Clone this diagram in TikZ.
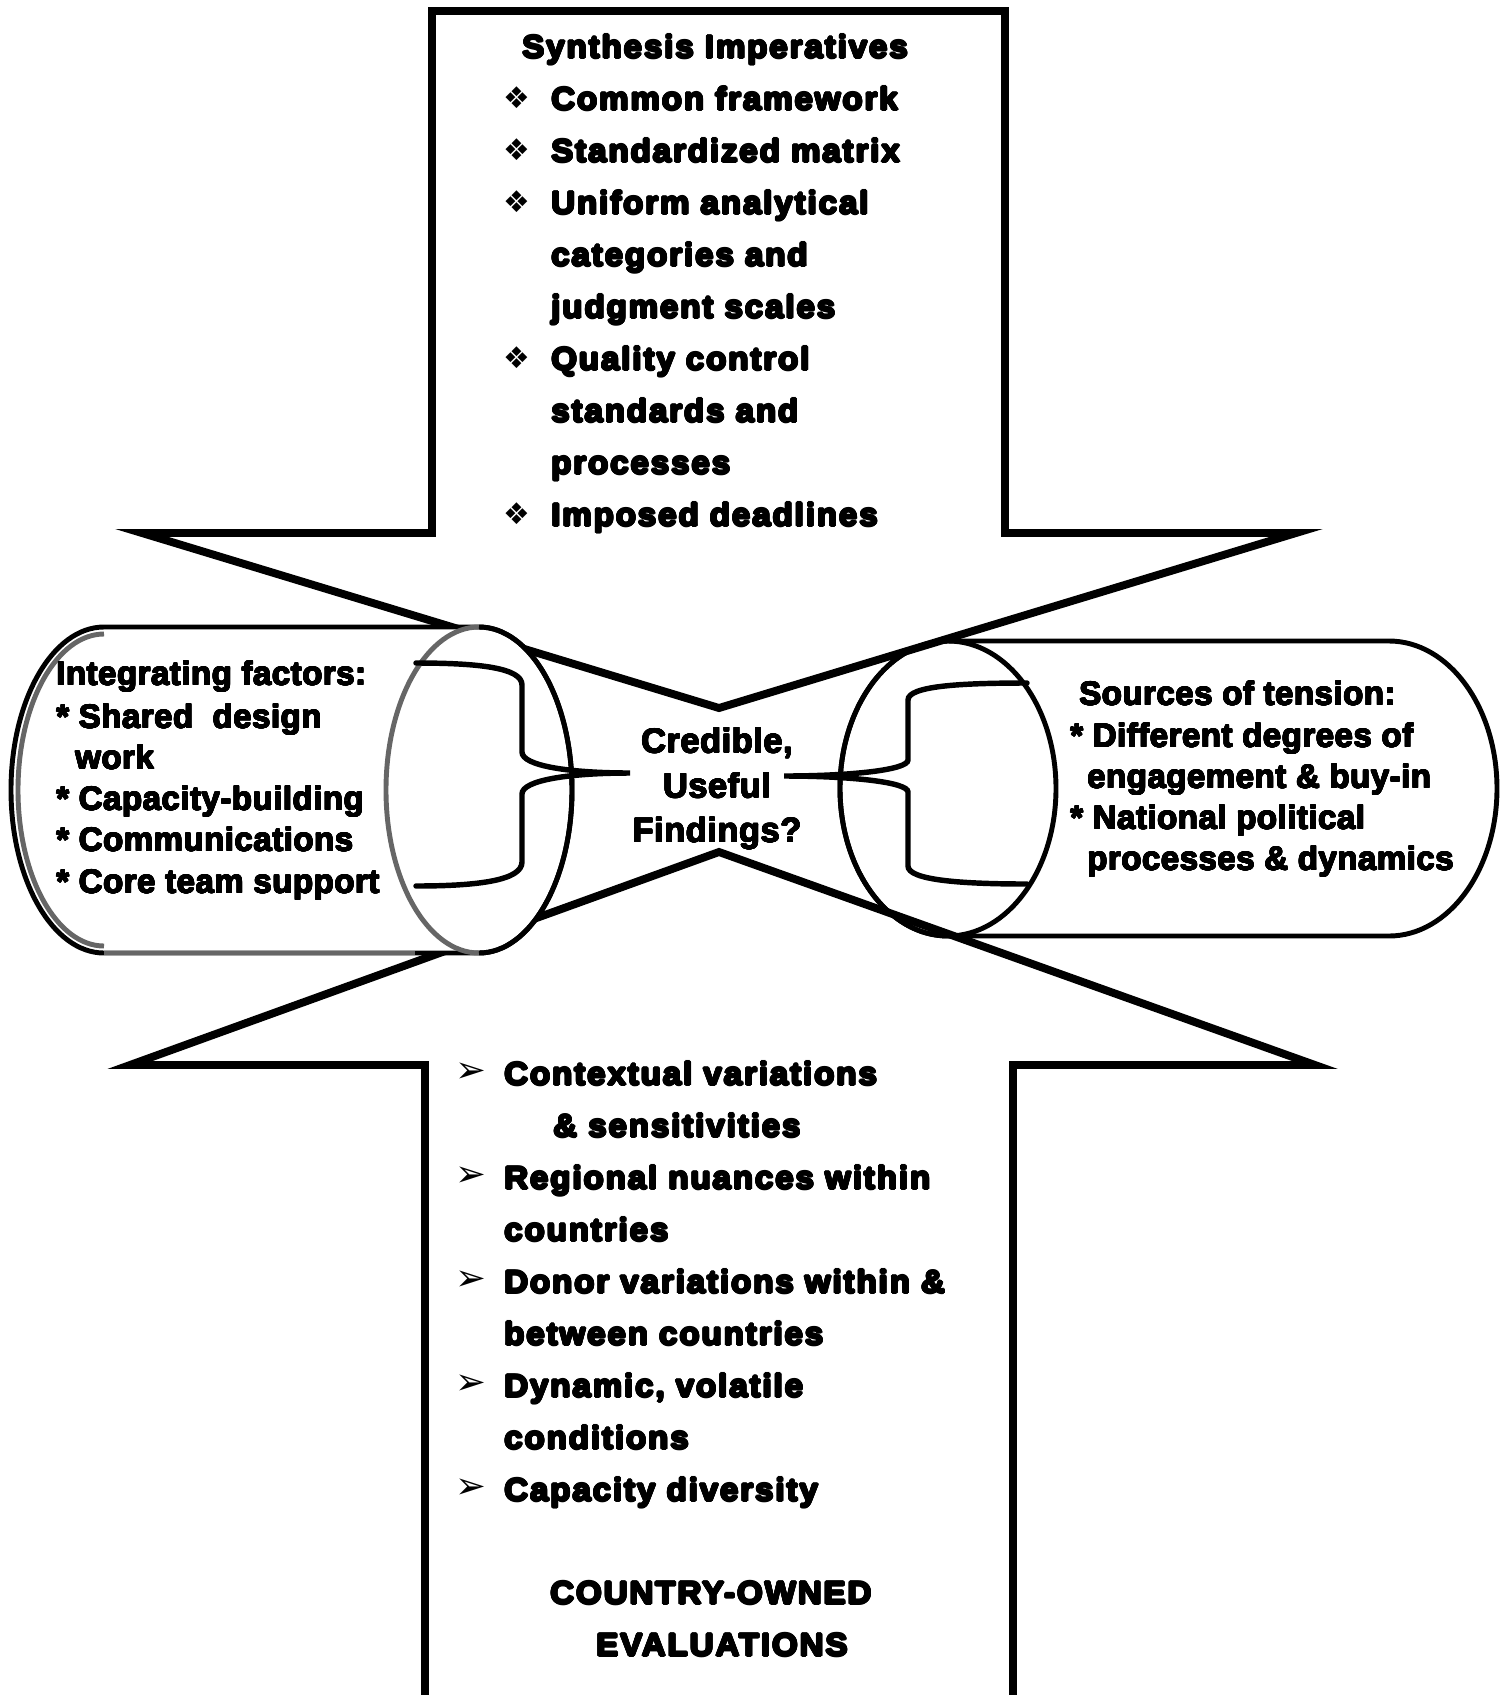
\documentclass[tikz,border=0pt]{standalone}
\usepackage{fontspec}
\usepackage[copies]{contour}
\setmainfont{Liberation Sans}
\newfontfamily\heavyfont{Liberation Sans}[BoldFeatures={FakeStretch=1.04,LetterSpace=6}]
\newfontfamily\armfont{Liberation Sans}[BoldFeatures={LetterSpace=1.5}]
\newfontfamily\dingfont{DejaVu Sans}
\contournumber{16}
\newcommand{\thick}[1]{\contourlength{0.6pt}\contour{black}{#1}}
\newcommand{\semithick}[1]{\contourlength{0.3pt}\contour{black}{#1}}

\tikzset{
  outline/.style={line width=4.5pt,line join=miter},
  cyl/.style={line width=2.8pt},
  brace/.style={line width=3.1pt,line cap=round},
  heavytxt/.style={font=\heavyfont\bfseries\fontsize{18.1}{20}\selectfont,anchor=base west,inner sep=0pt},
  cyltxt/.style={font=\armfont\bfseries\fontsize{18.8}{20}\selectfont,anchor=base west,inner sep=0pt},
  dia/.style={font=\dingfont\fontsize{17}{18}\selectfont,anchor=west,inner sep=0pt},
}

\begin{document}
\begin{tikzpicture}[x=0.02cm,y=-0.02cm]
				\useasboundingbox (0,0) rectangle (1508,1695);
				\path (479,790) coordinate (LE)
				(948,788.5) coordinate (RE)
				(719,708) coordinate (TP)
				(719,852) coordinate (BP)
				;
				% right cylinder
				\draw[cyl,fill=white] (948,641) -- (1389,641) arc[start angle=-90,end angle=90,x radius=108,y radius=147.5]
				-- (948,936) arc[start angle=90,end angle=270,x radius=108,y radius=147.5] -- cycle;
				\draw[cyl] (RE) ellipse[x radius=108,y radius=147.5];
				
				% the two arrows
				\draw[outline] (432,533) -- (432,11) -- (1005,11) -- (1005,533) -- (1296,533) -- (TP) -- (142,533) -- cycle;
				\draw[outline] (425,1710) -- (425,1065) -- (130,1065) -- (BP) -- (1315,1065) -- (1013,1065) -- (1013,1710);
				
				% left cylinder
				\draw[cyl,fill=white] (479,627) -- (104,627) arc[start angle=-90,end angle=-270,x radius=93,y radius=163]
				-- (479,953) arc[start angle=90,end angle=-90,x radius=93,y radius=163];
				\draw[cyl,black!60] (104,634) arc[start angle=-90,end angle=-270,x radius=86,y radius=156];
				\draw[cyl,black!60] (104,953) -- (415,953);
				\draw[cyl,black!60] (LE) ++(0,-163) arc[start angle=-90,end angle=-270,x radius=93,y radius=163];
				\draw[cyl] (LE) ++(0,163) arc[start angle=90,end angle=-90,x radius=93,y radius=163];
				
				% centre text and braces
				\node[font=\armfont\bfseries\fontsize{19.6}{25.5}\selectfont,align=center,inner sep=0pt] (find) at (717,789) {\semithick{Credible,}\\\semithick{Useful}\\\semithick{Findings?}};
				\path (630,773) coordinate (LT) (784,776) coordinate (RT);
				\draw[brace] (416,663) .. controls (480,663) and (522,668) .. (522,685) -- (522,752)
				.. controls (522,766) and (570,773) .. (LT) .. controls (570,773) and (522,780) .. (522,794)
				-- (522,862) .. controls (522,880) and (480,886) .. (416,886);
				\draw[brace] (1027,683) .. controls (960,683) and (908,686) .. (908,700) -- (908,760)
				.. controls (908,770) and (850,776) .. (RT) .. controls (850,776) and (908,782) .. (908,792)
				-- (908,866) .. controls (908,880) and (960,884) .. (1027,884);
				
				% top block
				\node[heavytxt] (synth) at (522,58) {\thick{Synthesis Imperatives}};
				\foreach \t [count=\i] in {Common framework,Standardized matrix,Uniform analytical,categories and,judgment scales,Quality control,standards and,processes,Imposed deadlines}
				\node[heavytxt] (imp\i) at (551,{58+52*\i}) {\thick{\t}};
				\foreach \i in {1,2,3,6,9}
				\node[dia] (dia\i) at (503,{46+52*\i}) {❖};
				
				% bottom block
				\foreach \t/\x [count=\i] in {Contextual variations/504,\& sensitivities/553,Regional nuances within/504,countries/504,Donor variations within \&/504,between countries/504,{Dynamic, volatile}/504,conditions/504,Capacity diversity/504}
				\node[heavytxt] (ctx\i) at (\x,{1085+52*(\i-1)}) {\thick{\t}};
				\foreach \i in {1,3,5,7,9}
				\node[dia,font=\dingfont\fontsize{21}{22}\selectfont] (arr\i) at (455,{1073+52*(\i-1)}) {➢};
				\node[heavytxt,anchor=base] (cown) at (711,1604) {\thick{COUNTRY-OWNED}};
				\node[heavytxt,anchor=base] (evals) at (722,1656) {\thick{EVALUATIONS}};
				
				% cylinder texts
				\foreach \t/\x/\y in {Integrating factors:/56/685,* Shared~~design/56/728,work/75/769,* Capacity-building/56/810,* Communications/56/851,* Core team support/56/893}
				\node[cyltxt] at (\x,\y) {\semithick{\t}};
				\foreach \t/\x/\y in {Sources of tension:/1079/705,* Different degrees of/1070/747,engagement \& buy-in/1087/788,* National political/1070/829,processes \& dynamics/1087/870}
				\node[cyltxt] at (\x,\y) {\semithick{\t}};
			\end{tikzpicture}
\end{document}
